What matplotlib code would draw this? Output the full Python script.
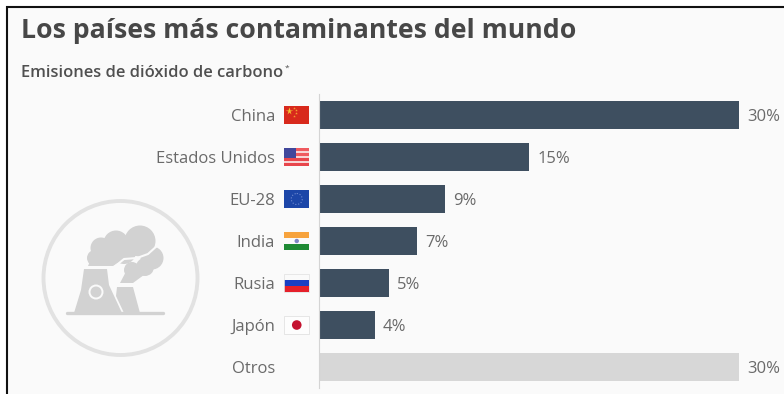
import matplotlib
matplotlib.use("Agg")
import matplotlib.pyplot as plt
from matplotlib.patches import Rectangle, Circle, Polygon

plt.rcParams['font.family'] = ['Open Sans', 'DejaVu Sans']

# emission shares
paises = ["China", "Estados Unidos", "EU-28", "India", "Rusia", "Japón", "Otros"]
valores = [30, 15, 9, 7, 5, 4, 30]
etiquetas = ["30%", "15%", "9%", "7%", "5%", "4%", "30%"]
colores = ["#3e4f60"] * 6 + ["#d7d7d7"]

titulo = "Los países más contaminantes del mundo"
subtitulo = "Emisiones de dióxido de carbono"

W, H = 784, 394
fig = plt.figure(figsize=(W / 100, H / 100), dpi=100, facecolor="white")

# overlay in pixel coordinates for frame, icon and flags
bg = fig.add_axes([0, 0, 1, 1])
bg.set_xlim(0, W)
bg.set_ylim(H, 0)
bg.axis("off")
bg.add_patch(Rectangle((7, 7), W, H, fc="#fafafa", ec="none"))
bg.plot([7, 7], [6, H], color="#111111", lw=1.5, solid_capstyle="butt")
bg.plot([6, W], [7, 7], color="#111111", lw=1.5, solid_capstyle="butt")

bg.text(21, 31, titulo, fontsize=19.2, fontweight="bold", color="#474747", va="center", ha="left")
bg.text(21, 73, subtitulo, fontsize=11.9, fontweight="semibold", color="#505050", va="center", ha="left")
bg.text(287, 68, "*", fontsize=6, color="#505050", va="center", ha="center")

# bars on a real axis: 14 px per percentage point, 42 px per row
ax = fig.add_axes([319 / W, 1 - 388 / H, 462 / W, 294 / H])
ax.patch.set_alpha(0)
ax.set_xlim(0, 33)
ax.set_ylim(6.5, -0.5)
ax.barh(range(len(paises)), valores, height=28 / 42, color=colores)
for i, (v, e) in enumerate(zip(valores, etiquetas)):
    ax.text(v + 0.58, i, e, fontsize=12, color="#6a6a6a", va="center_baseline", ha="left")
ax.set_yticks(range(len(paises)))
ax.set_yticklabels(paises, fontsize=12, color="#6a6a6a", va="center_baseline")
ax.tick_params(axis="y", length=0, pad=31.5)
ax.set_xticks([])
for s in ["top", "right", "bottom"]:
    ax.spines[s].set_visible(False)
ax.spines["left"].set_color("#d4d4d4")
ax.spines["left"].set_linewidth(0.8)

# flags
fx, fw, fh = 284, 25.5, 18
def franjas(yc, cols, ec=None):
    y0 = yc - fh / 2
    for j, c in enumerate(cols):
        bg.add_patch(Rectangle((fx, y0 + j * fh / len(cols)), fw, fh / len(cols), fc=c, ec="none"))
    if ec:
        bg.add_patch(Rectangle((fx, y0), fw, fh, fc="none", ec=ec, lw=0.6))

franjas(115, ["#d8291c"])
bg.plot([fx + 5], [111], marker="*", ms=5.5, color="#f4c430", mec="none")
for dx, dy in [(10, 107.5), (12, 110), (12, 113), (10, 115.5)]:
    bg.plot([fx + dx], [dy], marker="*", ms=2, color="#f4a030", mec="none")

franjas(157, ["#ef5a5f", "#f7d5d5", "#ef5a5f", "#f7d5d5", "#e8464c", "#f7d5d5", "#e8464c"])
bg.add_patch(Rectangle((fx, 148), 12.5, 9.5, fc="#41479b", ec="none"))

franjas(199, ["#1c46a8"])
bg.add_patch(Circle((fx + fw / 2, 199), 5.5, fc="none", ec="#6f8ad0", lw=0.8, ls=":"))

franjas(241, ["#f7a33d", "#fafafa", "#1f8a34"])
bg.add_patch(Circle((fx + fw / 2, 241), 2.2, fc="#7f86c4", ec="none"))

franjas(283, ["#fafafa", "#1a3fc4", "#e5202a"], ec="#e4e4e4")

franjas(325, ["#fdfdfd"], ec="#e2e2e2")
bg.add_patch(Circle((fx + fw / 2, 325), 4.8, fc="#c4122f", ec="none"))

# power plant icon
gris = "#d2d2d2"
fondo = "#fafafa"
bg.add_patch(Circle((120.5, 278), 77, fc="none", ec="#e2e2e2", lw=2.8))
bg.add_patch(Polygon([(84, 269), (107, 269), (109, 285), (122, 313), (74, 313), (81, 290)], fc=gris, ec="none"))
bg.add_patch(Polygon([(117, 287), (133, 287), (140, 313), (124, 313), (116, 296)], fc=gris, ec="none"))
bg.plot([67, 163], [313, 313], color=gris, lw=2.4, solid_capstyle="round")
bg.add_patch(Circle((96, 292), 7.5, fc=fondo, ec="none"))
bg.add_patch(Circle((96, 292), 5.5, fc=gris, ec="none"))

# smoke puffs
for cx, cy, r in [(140, 241, 15.5), (116, 243, 12.5), (101, 248, 10.5), (95, 258, 8), (124, 252, 12)]:
    bg.add_patch(Circle((cx, cy), r, fc=gris, ec="none"))
bg.add_patch(Polygon([(88, 266), (113, 266), (124, 259), (138, 255), (118, 245), (94, 252)], fc=gris, ec="none"))
bg.plot([113, 124, 137, 148, 158], [268, 259, 258, 254, 245], color=fondo, lw=1.5)
for cx, cy, r in [(152, 258, 11.5), (145, 267, 9), (132, 270, 8)]:
    bg.add_patch(Circle((cx, cy), r, fc=gris, ec="none"))
bg.add_patch(Polygon([(120, 283), (133, 283), (148, 272), (130, 264)], fc=gris, ec="none"))

fig.savefig("out.png", dpi=100, facecolor=fig.get_facecolor())
